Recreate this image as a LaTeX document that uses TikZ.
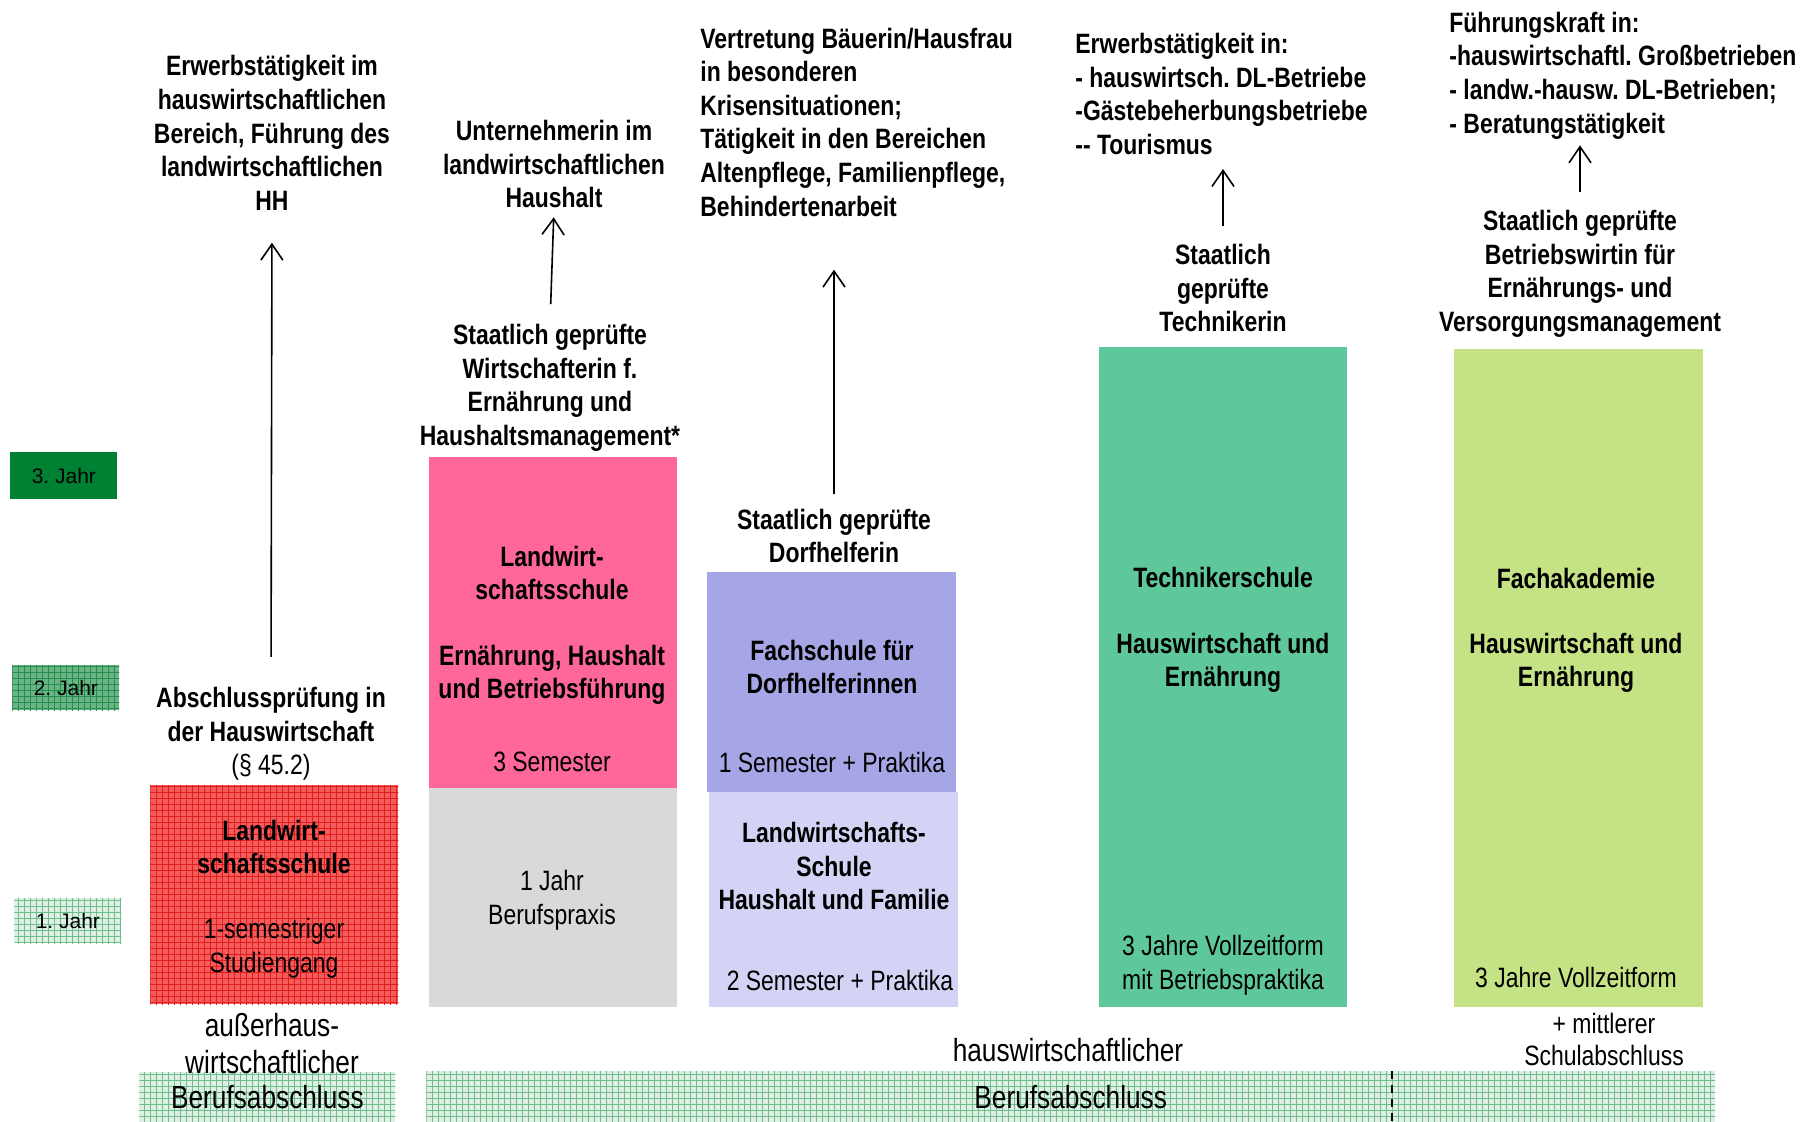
\documentclass[tikz,border=0pt]{standalone}
\usepackage{fontspec}
\setmainfont{Liberation Sans}[FakeStretch=0.82]
\newfontfamily\yrfont{Liberation Sans}
\usetikzlibrary{arrows.meta, patterns, positioning}
\frenchspacing

\definecolor{yrdark}{RGB}{0,128,51}
\definecolor{yrmid}{RGB}{105,182,132}
\definecolor{yrmidgrid}{RGB}{40,140,80}
\definecolor{lightg}{RGB}{222,240,228}
\definecolor{lightggrid}{RGB}{110,190,140}
\definecolor{redc}{RGB}{245,92,92}
\definecolor{redgrid}{RGB}{225,30,30}
\definecolor{pinkc}{RGB}{255,102,153}
\definecolor{grayc}{RGB}{217,217,217}
\definecolor{bluec}{RGB}{166,166,230}
\definecolor{lavc}{RGB}{211,211,245}
\definecolor{greenc}{RGB}{95,200,155}
\definecolor{limec}{RGB}{197,227,132}

\begin{document}
\begin{tikzpicture}[x=0.5pt, y=-0.5pt,
        every node/.style={inner sep=0pt, align=center, font=\fontsize{14}{16.8}\selectfont},
        hd/.style={font=\fontsize{14}{16.8}\selectfont\bfseries},
        big/.style={font=\fontsize{16}{18.5}\selectfont},
        bx/.style={rectangle, anchor=north west},
        yr/.style={bx, minimum width=53.5pt, minimum height=22.5pt, font=\yrfont\fontsize{10.5}{12}\selectfont},
        grd/.style={fill=#1, postaction={pattern=grid, pattern color=#1grid}},
        e/.style={-{Straight Barb[length=8pt, width=11pt]}, line width=0.8pt}]
        \useasboundingbox (0,0) rectangle (1809,1122);

        % Jahre
        \node[yr, fill=yrdark, minimum height=23.5pt] (j3) at (10,452) {3. Jahr};
        \node[yr, grd=yrmid] (j2) at (12,665) {2. Jahr};
        \node[yr, grd=lightg] (j1) at (14,898) {1. Jahr};

        % Boxen
        \node[bx, grd=red, fill=redc, minimum width=124pt, minimum height=109.5pt] (lws1) at (150,785) {};
        \node[bx, fill=pinkc, minimum width=124pt, minimum height=165.5pt] (lws2) at (429,457) {};
        \node[bx, fill=grayc, minimum width=124pt, minimum height=109.5pt] (prax) at (429,788) {};
        \node[bx, fill=bluec, minimum width=124.5pt, minimum height=110pt] (fsd) at (707,572) {};
        \node[bx, fill=lavc, minimum width=124.5pt, minimum height=107.5pt] (lwshf) at (709,792) {};
        \node[bx, fill=greenc, minimum width=124pt, minimum height=330pt] (tks) at (1099,347) {};
        \node[bx, fill=limec, minimum width=124.5pt, minimum height=329pt] (fak) at (1454,349) {};

        % Berufsabschluss
        \node[bx, big, grd=lightg, minimum width=128pt, minimum height=25pt] (ba1) at (139,1072) {Berufsabschluss};
        \node[bx, big, grd=lightg, minimum width=644.3pt, minimum height=25.5pt] (ba2) at (426,1071) {Berufsabschluss};
        \draw[line width=1pt, dash pattern=on 4pt off 3pt] (ba2.north west) ++(966,0) -- ++(0,51);
        \node[big] (ba1t) at (272,1044) {außerhaus-\\wirtschaftlicher};
        \node[big] (ba2t) at (1068,1050) {hauswirtschaftlicher};
        \node (msa) at (1604,1039) {+ mittlerer\\[-0.8pt]Schulabschluss};

        % Spalte 1
        \node[hd] (lws1a) at (274,847) {Landwirt-\\schaftsschule};
        \node (lws1b) at (274,948) {1-semestriger\\Studiengang};
        \node (abs) at (271,734) {\textbf{Abschlussprüfung in}\\\textbf{der Hauswirtschaft}\\(§ 45.2)};
        \node[hd] (erw1) at (272,133) {Erwerbstätigkeit im\\hauswirtschaftlichen\\Bereich, Führung des\\landwirtschaftlichen\\HH};
        \draw[e, shorten <=15pt, shorten >=16pt] (abs.north) -- (erw1.south);

        % Spalte 2
        \node[hd] (lws2a) at (552,573) {Landwirt-\\schaftsschule};
        \node[hd] (lws2b) at (552,675) {Ernährung, Haushalt\\und Betriebsführung};
        \node (lws2c) at (552,762) {3 Semester};
        \node (praxt) at (552,900) {1 Jahr\\Berufspraxis};
        \node[hd] (wirt) at (550,388) {Staatlich geprüfte\\Wirtschafterin f.\\Ernährung und\\Haushaltsmanagement*};
        \node[hd] (unt) at (554,164) {Unternehmerin im\\landwirtschaftlichen\\Haushalt};
        \draw[e, shorten <=10pt, shorten >=4.5pt] (wirt.north) -- (unt.south);

        % Spalte 3
        \node[hd] (fsda) at (832,667) {Fachschule für\\Dorfhelferinnen};
        \node (fsdb) at (832,762) {1 Semester + Praktika};
        \node[hd] (lwshfa) at (834,866) {Landwirtschafts-\\Schule\\Haushalt und Familie};
        \node (lwshfb) at (840,980) {2 Semester + Praktika};
        \node[hd] (dorf) at (834,536) {Staatlich geprüfte\\Dorfhelferin};
        \node[hd, align=left, anchor=west] (vert) at (700,122) {Vertretung Bäuerin/Hausfrau\\in besonderen\\Krisensituationen;\\Tätigkeit in den Bereichen\\Altenpflege, Familienpflege,\\Behindertenarbeit};
        \draw[e, shorten <=7.5pt, shorten >=26.5pt] (dorf.north) -- (dorf.north |- vert.south);

        % Spalte 4
        \node[hd] (tksa) at (1223,577) {Technikerschule};
        \node[hd] (tksb) at (1223,663) {Hauswirtschaft und\\Ernährung};
        \node (tksc) at (1223,965) {3 Jahre Vollzeitform\\mit Betriebspraktika};
        \node[hd] (tech) at (1223,288) {Staatlich\\geprüfte\\Technikerin};
        \node[hd, align=left, anchor=west] (erw4) at (1075,94) {Erwerbstätigkeit in:\\- hauswirtsch. DL-Betriebe\\-Gästebeherbungsbetriebe\\-{}- Tourismus};
        \draw[e, shorten <=9pt, shorten >=7pt] (tech.north) -- (tech.north |- erw4.south);

        % Spalte 5
        \node[hd] (faka) at (1576,578) {Fachakademie};
        \node[hd] (fakb) at (1576,663) {Hauswirtschaft und\\Ernährung};
        \node (fakc) at (1576,977) {3 Jahre Vollzeitform};
        \node[hd] (bw) at (1580,274) {Staatlich geprüfte\\Betriebswirtin für\\Ernährungs- und\\Versorgungsmanagement};
        \node[hd, align=left, anchor=west] (fk) at (1449,75.5) {Führungskraft in:\\-hauswirtschaftl. Großbetrieben\\- landw.-hausw. DL-Betrieben;\\- Beratungstätigkeit};
        \draw[e, shorten <=9pt, shorten >=3pt] (bw.north) -- (bw.north |- fk.south);
      \end{tikzpicture}
\end{document}
